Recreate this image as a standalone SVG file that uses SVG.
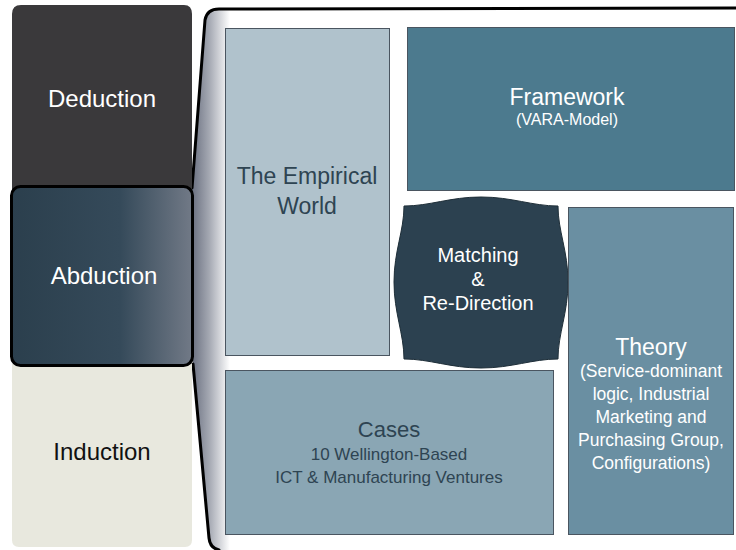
<svg xmlns="http://www.w3.org/2000/svg" width="736" height="550" viewBox="0 0 736 550">
<defs>
<linearGradient id="abd" x1="11" y1="0" x2="193" y2="0" gradientUnits="userSpaceOnUse">
<stop offset="0" stop-color="#2b3f4d"/>
<stop offset="0.6" stop-color="#354a5a"/>
<stop offset="1" stop-color="#727a87"/>
</linearGradient>
<linearGradient id="band" x1="192" y1="0" x2="230" y2="0" gradientUnits="userSpaceOnUse">
<stop offset="0" stop-color="#6a7080"/>
<stop offset="0.45" stop-color="#a4a8b2"/>
<stop offset="1" stop-color="#ffffff"/>
</linearGradient>
<style>
text{font-family:"Liberation Sans",Arial,sans-serif;text-anchor:middle}
.box{stroke:#4a5560;stroke-width:1}
.lt{fill:#ffffff}
.dk{fill:#2e4452}
.frame{fill:none;stroke:#000;stroke-width:3;stroke-linecap:round;stroke-linejoin:round}
</style>
</defs>
<rect width="736" height="550" fill="#ffffff"/>
<g id="frame">
<path d="M192,186 L205,20 Q207,9 219,9 L736,8 L736,550 L219,550 Q210,549 209,540 L193,366 Z" fill="url(#band)"/>
<path class="frame" d="M192,188 L205,20 Q207,9 219,9 L736,8"/>
<path class="frame" d="M193,364 L209,538 Q210,548 219,550"/>
</g>
<g id="deduction">
<path d="M12,14 Q12,5 21,5 L184,5 Q192,5 192,14 L192,190 L12,190 Z" fill="#3a393b"/>
<text x="102" y="107" font-size="24" class="lt">Deduction</text>
</g>
<g id="induction">
<path d="M12,364 L192,364 L192,540 Q192,547 185,547 L19,547 Q12,547 12,540 Z" fill="#e8e8de"/>
<text x="102" y="460" font-size="24" fill="#111111">Induction</text>
</g>
<g id="abduction">
<rect x="11.5" y="186.5" width="181" height="179" rx="9" fill="url(#abd)" stroke="#000" stroke-width="3"/>
<text x="104" y="284" font-size="24" class="lt">Abduction</text>
</g>
<g id="empirical">
<rect class="box" x="225.5" y="28.5" width="164" height="327" fill="#b0c2cc"/>
<text x="307" y="184" font-size="23" class="dk">The Empirical</text>
<text x="307" y="214" font-size="23" class="dk">World</text>
</g>
<g id="framework">
<rect class="box" x="407.5" y="27.5" width="327" height="163" fill="#4c7a8e"/>
<text x="567" y="105" font-size="23" class="lt">Framework</text>
<text x="567" y="125" font-size="16" class="lt">(VARA-Model)</text>
</g>
<g id="matching">
<path d="M404,206 C430,206 450,197 481,197 C512,197 532,206 558,206 C558,231 568,251 568,282 C568,313 558,334 558,359 C532,359 512,368 481,368 C450,368 430,359 404,359 C404,334 394,313 394,282 C394,251 404,231 404,206 Z" fill="#2c4150" stroke="#1e2e38" stroke-width="1"/>
<text x="478" y="262" font-size="20" class="lt">Matching</text>
<text x="478" y="286" font-size="20" class="lt">&amp;</text>
<text x="478" y="310" font-size="20" class="lt">Re-Direction</text>
</g>
<g id="theory">
<rect class="box" x="568.5" y="207.5" width="165" height="327" fill="#6a8fa2"/>
<text x="651" y="355" font-size="23" class="lt">Theory</text>
<text x="651" y="377" font-size="17.5" class="lt">(Service-dominant</text>
<text x="651" y="400" font-size="17.5" class="lt">logic, Industrial</text>
<text x="651" y="423" font-size="17.5" class="lt">Marketing and</text>
<text x="651" y="446" font-size="17.5" class="lt">Purchasing Group,</text>
<text x="651" y="469" font-size="17.5" class="lt">Configurations)</text>
</g>
<g id="cases">
<rect class="box" x="225.5" y="370.5" width="328" height="164" fill="#8aa6b4"/>
<text x="389" y="437" font-size="22" class="dk">Cases</text>
<text x="389" y="460" font-size="17" class="dk">10 Wellington-Based</text>
<text x="389" y="483" font-size="17" class="dk">ICT &amp; Manufacturing Ventures</text>
</g>
<g id="connectors"/>
</svg>
